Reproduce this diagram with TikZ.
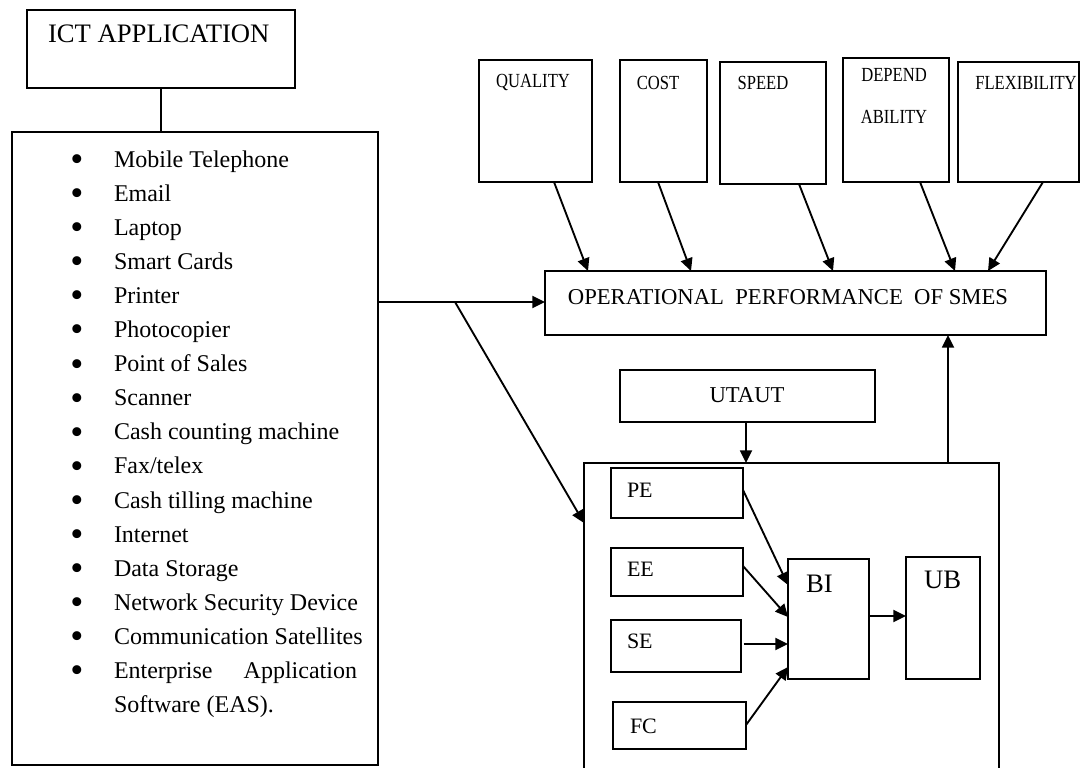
\documentclass[tikz,border=0pt]{standalone}
\usepackage{fontspec}
\usepackage{graphicx}
\setmainfont{Liberation Serif}
\usetikzlibrary{arrows.meta,calc}
\newcommand\mkbox[5]{\node[box, minimum width={(#4-#2)*0.75pt}, minimum height={(#5-#3)*0.75pt}] (#1) at ({(#2+#4)/2},{(#3+#5)/2}) {};}
\newcommand\cnd[1]{\scalebox{0.83}[1]{#1}}
\begin{document}
\begin{tikzpicture}[x=0.75pt,y=-0.75pt,
  box/.style={draw, line width=1.5pt, rectangle, inner sep=0pt, outer sep=0pt},
  arr/.style={line width=1.4pt, -{Triangle[length=9.5pt,width=9pt]}},
  ln/.style={line width=1.5pt},
  txt/.style={inner sep=0pt, outer sep=0pt},
  item/.style={txt, font=\fontsize{18pt}{21pt}\selectfont},
  bul/.style={txt, font=\fontsize{28pt}{30pt}\selectfont},
  top/.style={txt, font=\fontsize{15pt}{31.5pt}\selectfont, align=center},
  mid/.style={txt, font=\fontsize{16.5pt}{20pt}\selectfont},
  big/.style={txt, font=\fontsize{20pt}{24pt}\selectfont},
  ]
\useasboundingbox (0,0) rectangle (1080,767);
% boxes
\mkbox{ict}{27}{10}{295}{88}
\mkbox{lst}{12}{132}{378}{765}
\mkbox{q}{479}{60}{592}{182}
\mkbox{c}{620}{60}{707}{182}
\mkbox{s}{720}{62}{826}{184}
\mkbox{d}{843}{58}{949}{182}
\mkbox{f}{958}{62}{1079}{182}
\mkbox{op}{545}{271}{1046}{335}
\mkbox{ut}{620}{370}{875}{422}
\mkbox{outer}{584}{463}{999}{790}
\mkbox{pe}{611}{468}{743}{518}
\mkbox{ee}{611}{548}{743}{596}
\mkbox{se}{611}{620}{741}{672}
\mkbox{fc}{613}{702}{746}{749}
\mkbox{bi}{788}{559}{869}{679}
\mkbox{ub}{906}{557}{980}{679}
% labels
\node[big, anchor=west] (tict) at (48,34) {ICT APPLICATION};
\foreach \t [count=\i from 0] in {Mobile Telephone,Email,Laptop,Smart Cards,Printer,Photocopier,Point of Sales,Scanner,Cash counting machine,Fax/telex,Cash tilling machine,Internet,Data Storage,Network Security Device,Communication Satellites}{
  \node[item, anchor=base west] (it\i) at (114,{167+34.1*\i}) {\t};
  \node[bul, anchor=center] (bu\i) at (77,{163+34.1*\i}) {\textbullet};
}
\node[bul, anchor=center] (bu15) at (77,{163+34.1*15}) {\textbullet};
\node[item, anchor=base west] (it15a) at (114,{167+34.1*15}) {Enterprise};
\node[item, anchor=base east] (it15b) at (357,{167+34.1*15}) {Application};
\node[item, anchor=base west] (it16) at (114,{167+34.1*16}) {Software (EAS).};
\node[top] (tq) at (533,83) {\cnd{QUALITY}};
\node[top] (tc) at (658,83) {\cnd{COST}};
\node[top] (ts) at (763,83) {\cnd{SPEED}};
\node[top] (td) at (894,96) {\cnd{DEPEND}\\\cnd{ABILITY}};
\node[top] (tf) at (1026,83) {\cnd{FLEXIBILITY}};
\node[txt, font=\fontsize{17pt}{20pt}\selectfont] (top) at (788,297) {OPERATIONAL\ \ PERFORMANCE\ \ OF SMES};
\node[txt, font=\fontsize{17pt}{20pt}\selectfont] (tut) at (747,395) {UTAUT};
\node[mid, anchor=west] (tpe) at (627,490) {PE};
\node[mid, anchor=west] (tee) at (627,569) {EE};
\node[mid, anchor=west] (tse) at (627,641) {SE};
\node[mid, anchor=west] (tfc) at (630,726) {FC};
\node[big, anchor=west] (tbi) at (806,584) {BI};
\node[big, anchor=west] (tub) at (924,580) {UB};
% connectors
\draw[ln] (ict.south -| 161,0) -- (lst.north -| 161,0);
\draw[arr] (lst.east |- 0,302) -- (op.west |- 0,302);
\coordinate (split) at (455,302);
\draw[arr] (split) -- (outer.west |- 0,523);
\draw[arr] (q.south -| 554,0) -- (op.north -| 588,0);
\draw[arr] (c.south -| 658,0) -- (op.north -| 691,0);
\draw[arr] (s.south -| 799,0) -- (op.north -| 833,0);
\draw[arr] (d.south -| 920,0) -- (op.north -| 955,0);
\draw[arr] (f.south -| 1043,0) -- (op.north -| 988,0);
\draw[arr] (ut.south -| 746,0) -- (outer.north -| 746,0);
\draw[arr] (outer.north -| 948,0) -- (op.south -| 948,0);
\draw[arr] (pe.east |- 0,490) -- (bi.west |- 0,585);
\draw[arr] (ee.east |- 0,566) -- (bi.west |- 0,617);
\draw[arr] ([xshift=2pt]se.east |- 0,644) -- (bi.west |- 0,644);
\draw[arr] (fc.east |- 0,725) -- (bi.west |- 0,667);
\draw[arr] (bi.east |- 0,616) -- (ub.west |- 0,616);
\end{tikzpicture}
\end{document}
